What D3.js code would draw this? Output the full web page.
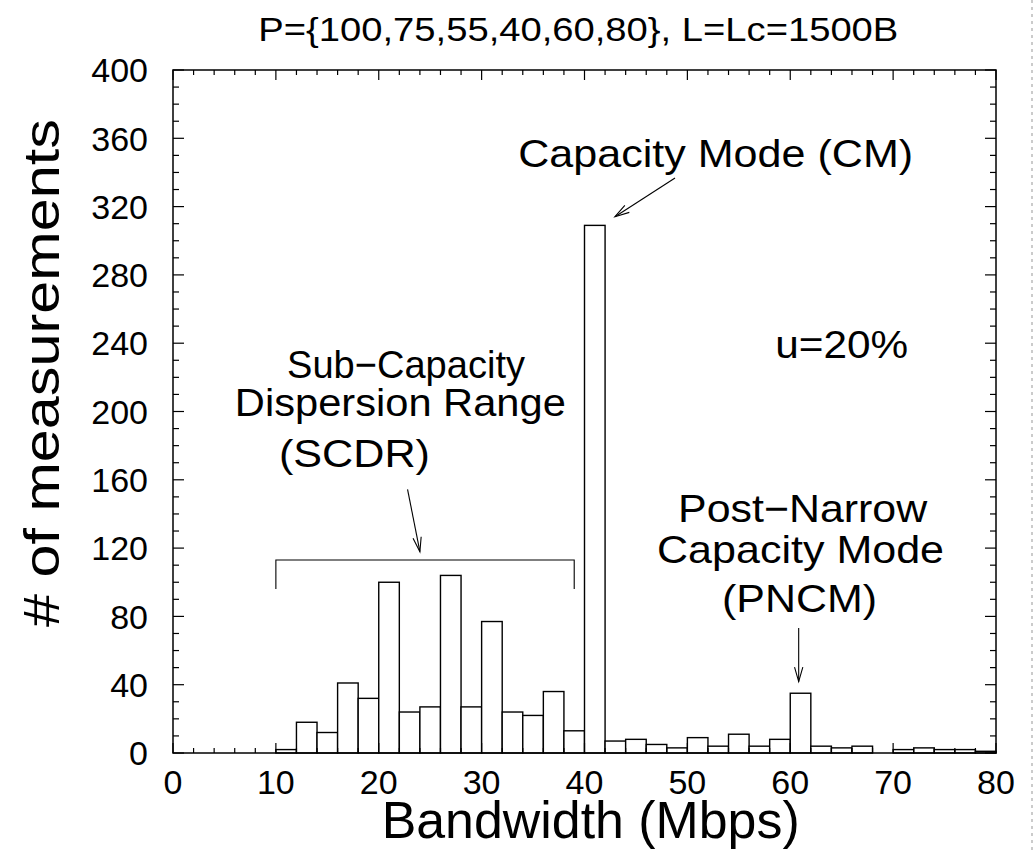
<!DOCTYPE html>
<html lang="en">
<head>
    <meta charset="UTF-8">
    <title>Bandwidth histogram</title>
    <script src="https://d3js.org/d3.v7.min.js"></script>
    <style>
        body { margin: 0; background: #fff; }
        svg text {
            font-family: 'Liberation Sans', Arial, sans-serif;
            fill: #000;
        }
        .bar {
            fill: #fff;
            stroke: #000;
            stroke-width: 1.4;
        }
        .frame {
            fill: none;
            stroke: #000;
            stroke-width: 1.5;
        }
        .tick-line {
            stroke: #000;
            stroke-width: 1.2;
        }
        .note-line {
            fill: none;
            stroke: #000;
            stroke-width: 1.1;
        }
    </style>
</head>
<body>
    <svg width="1034" height="853"></svg>

    <script>
        // histogram bins (Mbps, lower edge) and counts
        const binStarts = [0, 2, 4, 6, 8, 10, 12, 14, 16, 18, 20, 22, 24, 26, 28, 30, 32, 34, 36, 38,
                           40, 42, 44, 46, 48, 50, 52, 54, 56, 58, 60, 62, 64, 66, 68, 70, 72, 74, 76, 78];
        const counts = [0, 0, 0, 0, 0, 2, 18, 12, 41, 32, 100, 24, 27, 104, 27, 77, 24, 22, 36, 13,
                        309, 7, 8, 5, 3, 9, 4, 11, 4, 8, 35, 4, 3, 4, 0, 2, 3, 2, 2, 1];
        const binWidth = 2;

        const xTicks = [0, 10, 20, 30, 40, 50, 60, 70, 80];
        const yTicks = [0, 40, 80, 120, 160, 200, 240, 280, 320, 360, 400];

        const title = "P={100,75,55,40,60,80}, L=Lc=1500B";
        const xTitle = "Bandwidth (Mbps)";
        const yTitle = "# of measurements";

        // annotation texts: [text, x (Mbps), y (count), width]
        const notes = [
            ["Sub\u2212Capacity", 22.65, 219.6, 238],
            ["Dispersion Range", 22.1, 197.4, 331],
            ["(SCDR)", 17.64, 167.5, 151],
            ["Capacity Mode (CM)", 52.75, 343.2, 395],
            ["u=20%", 65.0, 231.2, 133],
            ["Post\u2212Narrow", 61.2, 135.4, 249],
            ["Capacity Mode", 61.0, 111.1, 287],
            ["(PNCM)", 60.9, 82.8, 155]
        ];
        // arrows: [x1, y1, x2, y2] in data units, head at (x2, y2)
        const arrows = [
            [22.8, 154.4, 24.0, 117.9],
            [48.8, 336.7, 42.96, 314.1],
            [60.82, 73.2, 60.82, 41.8]
        ];
        // bracket over SCDR: [xStart, xEnd, yTop, yEnds]
        const bracket = [10, 39, 113, 96];

        const svg = d3.select("svg"),
            margin = {top: 70, right: 38, bottom: 100, left: 173},
            width = +svg.attr("width") - margin.left - margin.right,
            height = +svg.attr("height") - margin.top - margin.bottom,
            g = svg.append("g").attr("transform", "translate(" + margin.left + "," + margin.top + ")");

        const x = d3.scaleLinear().domain([0, 80]).range([0, width]);
        const y = d3.scaleLinear().domain([0, 400]).range([height, 0]);

        // bars
        g.selectAll(".bar")
            .data(binStarts)
            .enter().append("rect")
            .attr("class", "bar")
            .attr("x", d => x(d))
            .attr("width", d => x(d + binWidth) - x(d))
            .attr("y", (d, i) => y(counts[i]))
            .attr("height", (d, i) => height - y(counts[i]));

        // ticks on all four sides, pointing inward
        const xMinor = d3.range(0, 80.01, 2);
        const yMinor = d3.range(0, 400.01, 10);
        const isMajorX = v => v % 10 === 0;
        const isMajorY = v => v % 40 === 0;

        g.selectAll(".xtick-b").data(xMinor).enter().append("line")
            .attr("class", "tick-line")
            .attr("x1", d => x(d)).attr("x2", d => x(d))
            .attr("y1", height).attr("y2", d => height - (isMajorX(d) ? 10 : 5));
        g.selectAll(".xtick-t").data(xMinor).enter().append("line")
            .attr("class", "tick-line")
            .attr("x1", d => x(d)).attr("x2", d => x(d))
            .attr("y1", 0).attr("y2", d => isMajorX(d) ? 10 : 5);
        g.selectAll(".ytick-l").data(yMinor).enter().append("line")
            .attr("class", "tick-line")
            .attr("y1", d => y(d)).attr("y2", d => y(d))
            .attr("x1", 0).attr("x2", d => isMajorY(d) ? 11 : 6);
        g.selectAll(".ytick-r").data(yMinor).enter().append("line")
            .attr("class", "tick-line")
            .attr("y1", d => y(d)).attr("y2", d => y(d))
            .attr("x1", width).attr("x2", d => width - (isMajorY(d) ? 11 : 6));

        g.append("rect")
            .attr("class", "frame")
            .attr("width", width)
            .attr("height", height);

        // tick labels
        g.selectAll(".xlabel").data(xTicks).enter().append("text")
            .attr("x", d => x(d))
            .attr("y", height + 41)
            .attr("text-anchor", "middle")
            .style("font-size", "34px")
            .text(d => d);
        g.selectAll(".ylabel").data(yTicks).enter().append("text")
            .attr("x", -25)
            .attr("y", d => y(d))
            .attr("dy", "0.36em")
            .attr("text-anchor", "end")
            .style("font-size", "34px")
            .text(d => d);

        // titles
        svg.append("text")
            .attr("x", margin.left + x(39.4))
            .attr("y", 41)
            .attr("text-anchor", "middle")
            .style("font-size", "33px")
            .attr("textLength", 640)
            .attr("lengthAdjust", "spacingAndGlyphs")
            .text(title);
        svg.append("text")
            .attr("x", margin.left + x(40.6))
            .attr("y", 838)
            .attr("text-anchor", "middle")
            .style("font-size", "52px")
            .attr("textLength", 418)
            .attr("lengthAdjust", "spacingAndGlyphs")
            .text(xTitle);
        svg.append("text")
            .attr("transform", "translate(59," + (margin.top + y(222.5)) + ") rotate(-90)")
            .attr("text-anchor", "middle")
            .style("font-size", "50px")
            .attr("textLength", 508)
            .attr("lengthAdjust", "spacingAndGlyphs")
            .text(yTitle);

        // annotations
        g.selectAll(".note").data(notes).enter().append("text")
            .attr("x", d => x(d[1]))
            .attr("y", d => y(d[2]))
            .attr("text-anchor", "middle")
            .style("font-size", "39px")
            .attr("textLength", d => d[3])
            .attr("lengthAdjust", "spacingAndGlyphs")
            .text(d => d[0]);

        g.append("path")
            .attr("class", "note-line")
            .attr("d", d3.line()([
                [x(bracket[0]), y(bracket[3])],
                [x(bracket[0]), y(bracket[2])],
                [x(bracket[1]), y(bracket[2])],
                [x(bracket[1]), y(bracket[3])]
            ]));

        arrows.forEach(function (a) {
            const x1 = x(a[0]), y1 = y(a[1]), x2 = x(a[2]), y2 = y(a[3]);
            const ang = Math.atan2(y2 - y1, x2 - x1);
            const len = 15, spread = 0.28;
            g.append("line")
                .attr("class", "note-line")
                .attr("x1", x1).attr("y1", y1)
                .attr("x2", x2).attr("y2", y2);
            g.append("path")
                .attr("class", "note-line")
                .attr("d", d3.line()([
                    [x2 - len * Math.cos(ang - spread), y2 - len * Math.sin(ang - spread)],
                    [x2, y2],
                    [x2 - len * Math.cos(ang + spread), y2 - len * Math.sin(ang + spread)]
                ]));
        });

        // dotted page edge on the right
        svg.append("line")
            .attr("x1", 1032).attr("x2", 1032)
            .attr("y1", 0).attr("y2", 853)
            .attr("stroke", "#bbb")
            .attr("stroke-width", 1.5)
            .attr("stroke-dasharray", "3,4");
    </script>
</body>
</html>
